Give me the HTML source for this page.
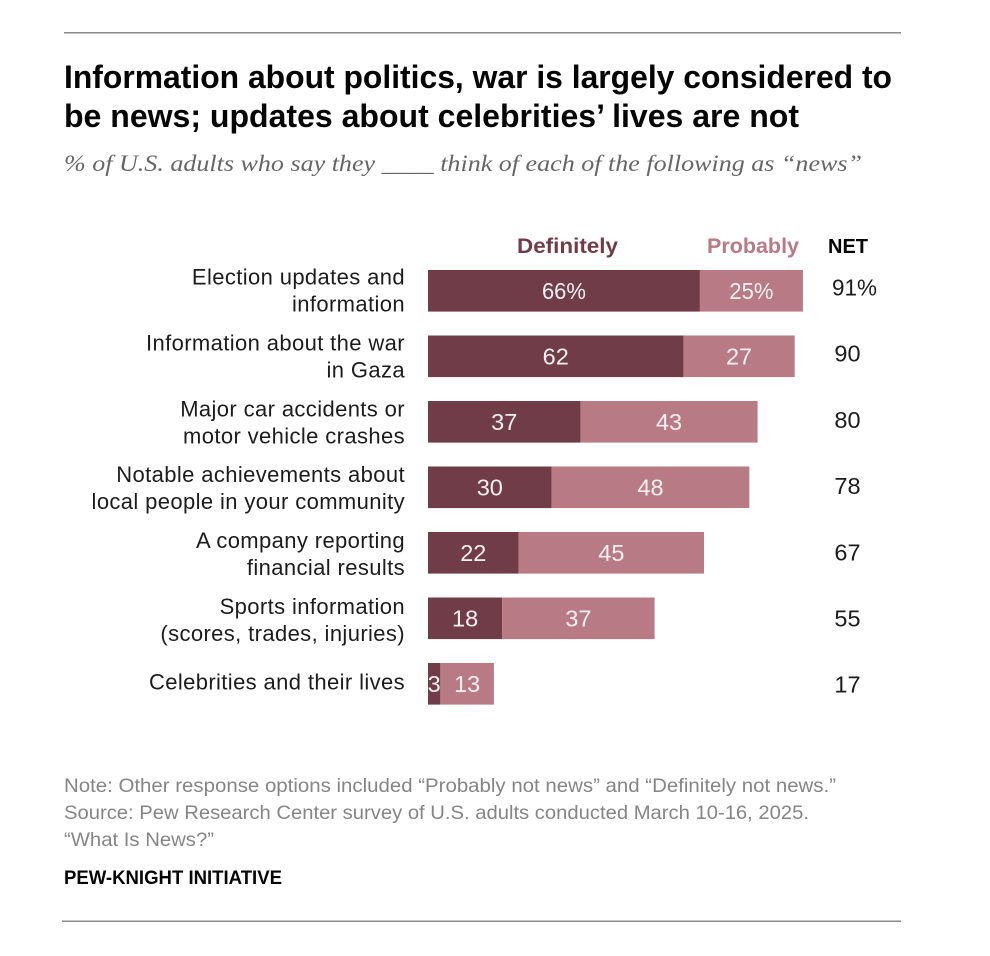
<!DOCTYPE html>
<html lang="en">
<head>
<meta charset="utf-8">
<title>Information about politics, war is largely considered to be news</title>
<style>
  html, body { margin: 0; padding: 0; background: #fff; }
  svg { display: block; }
  text { font-family: "Liberation Sans", sans-serif; }
  .cat { font-size: 22px; fill: #1c1c1c; text-anchor: end; letter-spacing: 0.38px; }
  .val { font-size: 23.5px; fill: #f7f0f1; text-anchor: middle; }
  .net { font-size: 23.5px; fill: #1c1c1c; text-anchor: middle; }
  .note { font-size: 19.5px; fill: #858585; }
</style>
</head>
<body>
<svg id="chart" width="990" height="956" viewBox="0 0 990 956" xmlns="http://www.w3.org/2000/svg">
  <rect x="0" y="0" width="990" height="956" fill="#ffffff"/>
  <rect x="64" y="32" width="837" height="1.5" fill="#8a8a8a"/>
  <text x="64" y="88" font-size="32" font-weight="700" fill="#050505" textLength="828" lengthAdjust="spacingAndGlyphs">Information about politics, war is largely considered to</text>
  <text x="64" y="127" font-size="32" font-weight="700" fill="#050505" textLength="735" lengthAdjust="spacingAndGlyphs">be news; updates about celebrities’ lives are not</text>
  <text x="64" y="171" font-size="23" font-style="italic" fill="#666666" style="font-family:'Liberation Serif',serif" textLength="798" lengthAdjust="spacingAndGlyphs">% of U.S. adults who say they ____ think of each of the following as “news”</text>
  <text x="517" y="253" font-size="21" font-weight="700" fill="#703c48" textLength="101" lengthAdjust="spacingAndGlyphs">Definitely</text>
  <text x="707" y="253" font-size="21" font-weight="700" fill="#b87a84" textLength="92" lengthAdjust="spacingAndGlyphs">Probably</text>
  <text x="828" y="253" font-size="20" font-weight="700" fill="#050505" textLength="40" lengthAdjust="spacingAndGlyphs">NET</text>
  <g id="rows"></g>
  <text class="note" x="64" y="792" textLength="772" lengthAdjust="spacingAndGlyphs">Note: Other response options included “Probably not news” and “Definitely not news.”</text>
  <text class="note" x="64" y="819" textLength="745" lengthAdjust="spacingAndGlyphs">Source: Pew Research Center survey of U.S. adults conducted March 10-16, 2025.</text>
  <text class="note" x="64" y="846" textLength="150" lengthAdjust="spacingAndGlyphs">“What Is News?”</text>
  <text x="64" y="884" font-size="19" font-weight="700" fill="#050505" textLength="218" lengthAdjust="spacingAndGlyphs">PEW-KNIGHT INITIATIVE</text>
  <rect x="62" y="920.5" width="839" height="1.5" fill="#8a8a8a"/>
</svg>
<script>
const categories = [
  ["Election updates and", "information"],
  ["Information about the war", "in Gaza"],
  ["Major car accidents or", "motor vehicle crashes"],
  ["Notable achievements about", "local people in your community"],
  ["A company reporting", "financial results"],
  ["Sports information", "(scores, trades, injuries)"],
  ["Celebrities and their lives"]
];
const definitely = [66, 62, 37, 30, 22, 18, 3];
const probably = [25, 27, 43, 48, 45, 37, 13];
const net = [91, 90, 80, 78, 67, 55, 17];

const NS = "http://www.w3.org/2000/svg";
const rows = document.getElementById("rows");
const X0 = 428, UNIT = 4.12, BAR_TOP = 270, STEP = 65.5, BAR_H = 41.6;
const LABEL_STEP = 65.9, NET_STEP = 66.2;
const COLOR_DEF = "#703c48", COLOR_PROB = "#b87a84";
const xScale = v => X0 + v * UNIT;
const rowTop = i => BAR_TOP + i * STEP;
const rowMid = i => rowTop(i) + BAR_H / 2;

function makeEl(tag, attrs, text) {
  const el = document.createElementNS(NS, tag);
  for (const k in attrs) el.setAttribute(k, attrs[k]);
  if (text !== undefined) el.textContent = text;
  rows.appendChild(el);
  return el;
}

categories.forEach((lines, i) => {
  const mid = rowMid(i);
  const labelBase = 284.5 + i * LABEL_STEP;
  lines.forEach((line, j) => {
    const y = lines.length === 2 ? labelBase + j * 27 : labelBase + 9.5;
    const label = makeEl("text", { class: "cat", x: 405, y: y }, line);
    
    
  });

  const d = definitely[i], p = probably[i];
  const barDef = makeEl("rect", { x: xScale(0), y: rowTop(i), width: xScale(d) - xScale(0), height: BAR_H, fill: COLOR_DEF });
  
  
  const barProb = makeEl("rect", { x: xScale(d), y: rowTop(i), width: xScale(d + p) - xScale(d), height: BAR_H, fill: COLOR_PROB });
  
  

  const suffix = i === 0 ? "%" : "";
  const valDef = makeEl("text", { class: "val", x: xScale(d / 2), y: mid + 8.3 }, d + suffix);
  
  
  const valProb = makeEl("text", { class: "val", x: xScale(d + p / 2), y: mid + 8.3 }, p + suffix);
  
  

  const netText = makeEl("text", { class: "net", x: i === 0 ? 854.5 : 847.5, y: 295.5 + i * NET_STEP }, net[i] + suffix);
  
  

  if (i === 0) {
    valDef.setAttribute('textLength', '44');
    valDef.setAttribute('lengthAdjust', 'spacingAndGlyphs');
    valProb.setAttribute('textLength', '44');
    valProb.setAttribute('lengthAdjust', 'spacingAndGlyphs');
    netText.setAttribute('textLength', '45');
    netText.setAttribute('lengthAdjust', 'spacingAndGlyphs');
  }
});
</script>
</body>
</html>
